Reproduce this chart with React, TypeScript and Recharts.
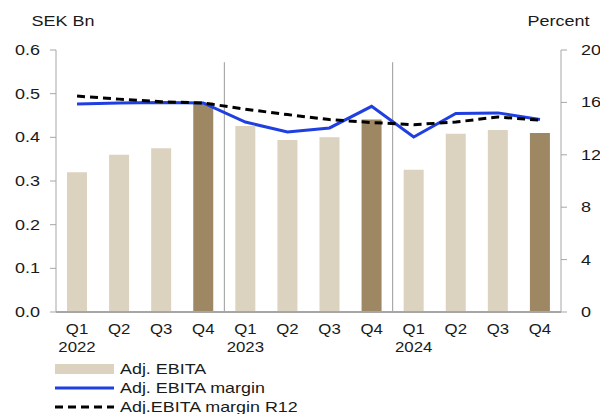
import React from 'react';
import {
  ComposedChart,
  Bar,
  Line,
  XAxis,
  YAxis,
  Cell,
  ReferenceLine,
  Legend,
} from 'recharts';

// Quarterly categories and series
const quarters = ['Q1', 'Q2', 'Q3', 'Q4', 'Q1', 'Q2', 'Q3', 'Q4', 'Q1', 'Q2', 'Q3', 'Q4'];
const years = ['2022', '2022', '2022', '2022', '2023', '2023', '2023', '2023', '2024', '2024', '2024', '2024'];
const adjEbita = [0.32, 0.36, 0.375, 0.48, 0.426, 0.394, 0.4, 0.441, 0.326, 0.408, 0.417, 0.41];
const adjEbitaMargin = [15.88, 15.95, 16.0, 15.96, 14.5, 13.74, 14.05, 15.7, 13.36, 15.15, 15.2, 14.69];
const adjEbitaMarginR12 = [16.48, 16.25, 16.05, 15.96, 15.48, 15.07, 14.69, 14.46, 14.3, 14.5, 14.89, 14.64];

const leftTicks = [0, 0.1, 0.2, 0.3, 0.4, 0.5, 0.6];
const rightTicks = [0, 4, 8, 12, 16, 20];
const yearEnds = ['Q4 2022', 'Q4 2023'];

const data = quarters.map((q, i) => ({
  key: `${q} ${years[i]}`,
  quarter: q,
  year: years[i],
  ebita: adjEbita[i],
  margin: adjEbitaMargin[i],
  marginR12: adjEbitaMarginR12[i],
}));

const FONT = '"Liberation Sans", Arial, sans-serif';
const STRETCH = 1.2;
const LEGEND_STRETCH = 1.28;
const TEXT = '#1a1a1a';
const LIGHT = '#dbd2bf';
const DARK = '#9e8863';
const BLUE = '#1f3fe0';
const AXIS = '#a6a6a6';

const stretch = (x: number, y: number, s: number = STRETCH) =>
  `translate(${x},${y}) scale(${s},1) translate(${-x},${-y})`;

const LeftTick = (props: any) => {
  const { x, y, payload } = props;
  return (
    <text x={x} y={y} dy={5} textAnchor="end" fontFamily={FONT} fontSize={15} fill={TEXT} transform={stretch(x, y)}>
      {Number(payload.value).toFixed(1)}
    </text>
  );
};

const RightTick = (props: any) => {
  const { x, y, payload } = props;
  return (
    <text x={x} y={y} dy={5} textAnchor="start" fontFamily={FONT} fontSize={15} fill={TEXT} transform={stretch(x, y)}>
      {payload.value}
    </text>
  );
};

const QuarterTick = (props: any) => {
  const { x, y, payload, index } = props;
  const row = data[index] ?? data.find((d) => d.key === payload.value);
  return (
    <g transform={stretch(x, y)}>
      <text x={x} y={y + 14} textAnchor="middle" fontFamily={FONT} fontSize={14} fill={TEXT}>
        {row?.quarter}
      </text>
      {row?.quarter === 'Q1' && (
        <text x={x} y={y + 32} textAnchor="middle" fontFamily={FONT} fontSize={14} fill={TEXT}>
          {row.year}
        </text>
      )}
    </g>
  );
};

const AxisTitle = (text: string, shift: number) => (props: any) => {
  const vb = props.viewBox || {};
  const cx = vb.x + vb.width / 2 + shift;
  const cy = 26;
  return (
    <text x={cx} y={cy} textAnchor="middle" fontFamily={FONT} fontSize={15} fill={TEXT} transform={stretch(cx, cy)}>
      {text}
    </text>
  );
};

const legendItems = [
  { label: 'Adj. EBITA', kind: 'bar' },
  { label: 'Adj. EBITA margin', kind: 'line' },
  { label: 'Adj.EBITA margin R12', kind: 'dash' },
];

const LegendContent = () => (
  <svg width={320} height={58} style={{ display: 'block' }}>
    {legendItems.map((item, i) => {
      const cy = 11 + i * 19;
      return (
        <g key={item.label}>
          {item.kind === 'bar' && <rect x={0} y={cy - 5} width={59} height={10} fill={LIGHT} />}
          {item.kind === 'line' && <line x1={0} x2={59} y1={cy} y2={cy} stroke={BLUE} strokeWidth={3} />}
          {item.kind === 'dash' && (
            <line x1={0} x2={59} y1={cy} y2={cy} stroke="#000" strokeWidth={3} strokeDasharray="8 5" />
          )}
          <text
            x={65}
            y={cy + 5}
            fontFamily={FONT}
            fontSize={14}
            fill={TEXT}
            transform={stretch(65, cy, LEGEND_STRETCH)}
          >
            {item.label}
          </text>
        </g>
      );
    })}
  </svg>
);

export default function App() {
  return (
    <div style={{ position: 'absolute', left: 0, top: 0, width: 600, height: 414, background: '#fff' }}>
      <ComposedChart
        width={600}
        height={414}
        data={data}
        margin={{ top: 50, right: 0, bottom: 0, left: 0 }}
        barSize={20}
      >
        <XAxis
          dataKey="key"
          xAxisId={0}
          interval={0}
          tickLine={false}
          axisLine={{ stroke: AXIS, strokeWidth: 2 }}
          tick={<QuarterTick />}
          height={44}
        />
        <YAxis
          yAxisId="left"
          orientation="left"
          width={56}
          domain={[0, 0.6]}
          ticks={leftTicks}
          interval={0}
          tickSize={6}
          tickMargin={10}
          axisLine={{ stroke: AXIS }}
          tickLine={{ stroke: AXIS }}
          tick={<LeftTick />}
          label={{ content: AxisTitle('SEK Bn', 35) }}
        />
        <YAxis
          yAxisId="right"
          orientation="right"
          width={39}
          domain={[0, 20]}
          ticks={rightTicks}
          interval={0}
          tickSize={6}
          tickMargin={14}
          axisLine={{ stroke: AXIS }}
          tickLine={{ stroke: AXIS }}
          tick={<RightTick />}
          label={{ content: AxisTitle('Percent', -22) }}
        />
        {yearEnds.map((k) => (
          <ReferenceLine
            key={k}
            yAxisId="left"
            position="end"
            segment={[
              { x: k, y: 0 },
              { x: k, y: 0.572 },
            ]}
            stroke="#999"
            strokeWidth={1}
          />
        ))}
        <Bar yAxisId="left" dataKey="ebita" name="Adj. EBITA" isAnimationActive={false}>
          {data.map((d) => (
            <Cell key={d.key} fill={d.quarter === 'Q4' ? DARK : LIGHT} />
          ))}
        </Bar>
        <Line
          yAxisId="right"
          dataKey="margin"
          name="Adj. EBITA margin"
          type="linear"
          stroke={BLUE}
          strokeWidth={3}
          dot={false}
          activeDot={false}
          isAnimationActive={false}
        />
        <Line
          yAxisId="right"
          dataKey="marginR12"
          name="Adj.EBITA margin R12"
          type="linear"
          stroke="#000"
          strokeWidth={3}
          strokeDasharray="8 5"
          dot={false}
          activeDot={false}
          isAnimationActive={false}
        />
        <Legend
          verticalAlign="bottom"
          align="left"
          height={55}
          content={<LegendContent />}
          wrapperStyle={{ left: 55, top: 358, width: 320, height: 58 }}
        />
      </ComposedChart>
    </div>
  );
}
